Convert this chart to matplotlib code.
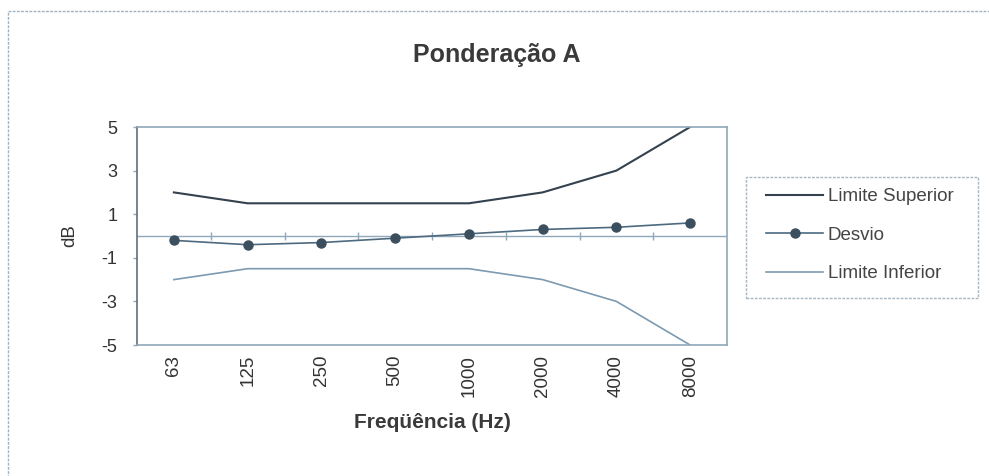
import matplotlib
matplotlib.use("Agg")
import matplotlib.pyplot as plt
from matplotlib.patches import Rectangle
import numpy as np

plt.rcParams['font.family'] = ['Liberation Sans', 'DejaVu Sans']

categories = ['63', '125', '250', '500', '1000', '2000', '4000', '8000']
limite_superior = [2.0, 1.5, 1.5, 1.5, 1.5, 2.0, 3.0, 5.0]
desvio = [-0.2, -0.4, -0.3, -0.1, 0.1, 0.3, 0.4, 0.6]
limite_inferior = [-2.0, -1.5, -1.5, -1.5, -1.5, -2.0, -3.0, -5.0]
y_ticks = [5, 3, 1, -1, -3, -5]

W, H = 989, 476
fig = plt.figure(figsize=(W / 100, H / 100), dpi=100)
fig.patch.set_facecolor('white')

def fx(px):
    return px / W

def fy(py):
    return 1 - py / H

# outer chart border (top and left visible in the scan)
fig.add_artist(Rectangle((0.008, -0.05), 1.2, 1.027, transform=fig.transFigure,
                         fill=False, edgecolor='#9fb2c0', lw=1.0, ls=(0, (2, 1))))

left, right, top, bottom = 137, 727, 127, 345
ax = fig.add_axes([fx(left), fy(bottom), fx(right - left), (bottom - top) / H])
x = np.arange(len(categories))

line_sup, = ax.plot(x, limite_superior, color='#34424f', lw=1.5, label='Limite Superior')
line_dev, = ax.plot(x, desvio, color='#4d6a80', lw=1.2, marker='o', ms=6.5,
                    markerfacecolor='#3c4f5e', markeredgecolor='#3c4f5e', label='Desvio')
line_inf, = ax.plot(x, limite_inferior, color='#7d9ab0', lw=1.2, label='Limite Inferior')

# category axis crossing at zero with tick marks at category boundaries
ax.axhline(0, color='#8fa8ba', lw=1.0, zorder=1)
bounds = np.arange(len(categories) + 1) - 0.5
ax.plot(bounds[1:-1], np.zeros(len(bounds) - 2), ls='none', marker='|', ms=6,
        color='#8fa8ba', mew=1.0, zorder=1)

ax.set_xlim(-0.5, len(categories) - 0.5)
ax.set_ylim(-5, 5)
ax.set_yticks(y_ticks)
ax.set_yticklabels([str(v) for v in y_ticks], fontsize=13, color='#333333')
ax.set_xticks(x)
ax.set_xticklabels(categories, rotation=90, fontsize=13.5, color='#333333')
ax.tick_params(axis='x', length=0, pad=7)
ax.tick_params(axis='y', length=3, width=1, color='#8fa8ba', pad=11)

for sp in ax.spines.values():
    sp.set_color('#8fa8ba')
    sp.set_linewidth(1.2)
ax.spines['left'].set_color('#5f6f7c')

ax.set_ylabel('dB', fontsize=13.5, color='#333333', labelpad=17)
ax.set_xlabel('Freqüência (Hz)', fontsize=15, fontweight='bold', color='#3a3a3a', labelpad=12)

fig.text(fx(497), fy(55), 'Ponderação A', fontsize=18, fontweight='bold',
         color='#3a3a3a', ha='center', va='center')

# legend box
fig.add_artist(Rectangle((fx(746), fy(298)), fx(978 - 746), (298 - 177) / H,
                         transform=fig.transFigure, fill=False, edgecolor='#a6b6c2',
                         lw=1.0, ls=(0, (2, 1))))
leg = fig.legend(handles=[line_sup, line_dev, line_inf], loc='upper left',
                 bbox_to_anchor=(fx(766), fy(188)), borderaxespad=0, borderpad=0,
                 fontsize=13.5, handlelength=3.05, labelspacing=1.15, numpoints=1,
                 frameon=False, handletextpad=0.25, labelcolor='#444444')

fig.savefig('out.png', dpi=100)
